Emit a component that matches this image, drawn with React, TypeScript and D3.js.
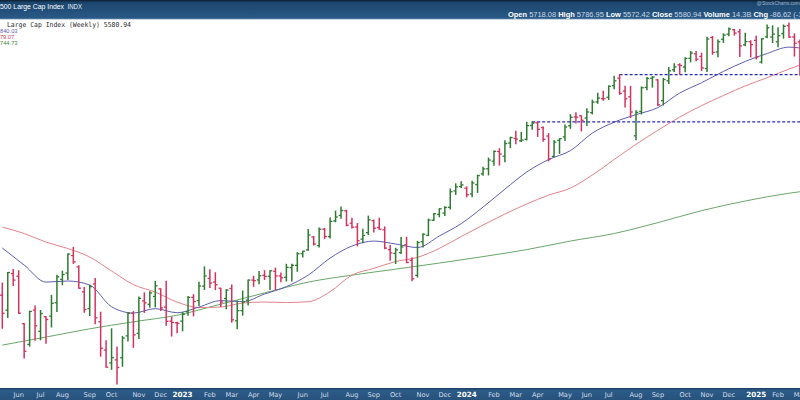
import React from "react";
import * as d3 from "d3";

const W = 800;
const H = 400;

// Weekly bars, one per Monday, from the week of 16 May 2022 to the week of 3 Mar 2025
const weeks: Date[] = d3.utcMonday.range(new Date(Date.UTC(2022, 4, 16)), new Date(Date.UTC(2025, 2, 4)));

const opens = [
  4013, 3920, 4151, 4134, 3838, 3715, 3920, 3792, 3880, 3883, 3966, 4113, 4155, 4270, 4195, 4034, 3930, 4084, 3849, 3682,
  3609, 3626, 3638, 3765, 3901, 3780, 3977, 3956, 4005, 4053, 3939, 3853, 3843, 3853, 3910, 3999, 3979, 4070, 4120, 4096,
  4057, 3992, 4055, 3855, 3917, 3982, 4109, 4110, 4140, 4134, 4166, 4136, 4127, 4190, 4205, 4283, 4308, 4396, 4337, 4450,
  4399, 4508, 4547, 4580, 4492, 4465, 4381, 4426, 4510, 4462, 4445, 4310, 4284, 4289, 4342, 4238, 4139, 4364, 4407, 4513,
  4554, 4564, 4605, 4725, 4758, 4745, 4703, 4772, 4853, 4892, 4950, 5026, 4989, 5093, 5131, 5111, 5123, 5235, 5257, 5218,
  5149, 4988, 5114, 5142, 5233, 5305, 5315, 5297, 5341, 5432, 5460, 5471, 5572, 5638, 5525, 5476, 5151, 5351, 5557, 5637,
  5623, 5442, 5615, 5712, 5757, 5737, 5816, 5857, 5833, 5724, 6009, 5874, 5992, 6040, 6083, 6063, 5940, 5969, 5982, 5782,
  6015, 6013, 5969, 6046, 6121, 6014, 5968,
];
const highs = [
  4090, 4158, 4177, 4169, 3838, 3913, 3946, 3918, 3880, 4012, 4140, 4167, 4280, 4325, 4203, 4062, 4076, 4119, 3907, 3736,
  3807, 3698, 3762, 3905, 3911, 4001, 4028, 4034, 4101, 4053, 4101, 3878, 3846, 3906, 4004, 4016, 4095, 4195, 4176, 4156,
  4057, 4048, 4078, 3976, 4039, 4110, 4133, 4164, 4170, 4170, 4187, 4155, 4212, 4212, 4290, 4299, 4448, 4400, 4458, 4456,
  4528, 4578, 4607, 4584, 4527, 4490, 4450, 4542, 4514, 4527, 4466, 4338, 4319, 4393, 4394, 4256, 4366, 4418, 4521, 4560,
  4595, 4609, 4739, 4778, 4793, 4755, 4798, 4842, 4903, 4975, 5030, 5048, 5111, 5140, 5189, 5179, 5261, 5265, 5264, 5222,
  5168, 5114, 5128, 5239, 5325, 5341, 5315, 5375, 5447, 5506, 5523, 5570, 5655, 5670, 5566, 5566, 5358, 5561, 5643, 5651,
  5623, 5636, 5734, 5767, 5767, 5822, 5879, 5878, 5863, 6012, 6018, 5985, 6044, 6099, 6085, 6085, 6049, 5978, 6021, 5997,
  6128, 6120, 6101, 6128, 6147, 6043, 5986,
];
const lows = [
  3810, 3875, 4074, 3900, 3637, 3705, 3739, 3742, 3722, 3818, 3911, 4079, 4112, 4218, 4057, 3907, 3887, 3838, 3647, 3584,
  3573, 3491.6, 3590, 3735, 3698, 3750, 3906, 3938, 3940, 3918, 3828, 3764, 3783, 3795, 3888, 3885, 3948, 4049, 4061, 4048,
  3943, 3928, 3847, 3808, 3889, 3951, 4069, 4086, 4113, 4049, 4048, 4098, 4103, 4103, 4166, 4261, 4306, 4341, 4328, 4385,
  4389, 4502, 4527, 4474, 4458, 4335, 4356, 4413, 4430, 4448, 4316, 4238, 4217, 4284, 4223, 4104, 4129, 4327, 4406, 4511,
  4537, 4546, 4593, 4699, 4751, 4682, 4682, 4714, 4842, 4845, 4918, 4920, 4946, 5056, 5087, 5105, 5118, 5204, 5146, 5107,
  4953, 4985, 5011, 5114, 5212, 5256, 5191, 5234, 5331, 5420, 5447, 5453, 5546, 5497, 5390, 5302, 5119, 5330, 5537, 5560,
  5402, 5406, 5592, 5698, 5674, 5696, 5784, 5794, 5706, 5697, 5853, 5830, 5963, 6026, 6032, 5832, 5932, 5829, 5809, 5773,
  6007, 5962, 5923, 6003, 6008, 5837, 5666,
];
const closes = [
  3901, 4158, 4109, 3901, 3675, 3912, 3825, 3899, 3863, 3962, 4130, 4145, 4280, 4228, 4057, 3924, 4067, 3873, 3693, 3585,
  3639, 3583, 3752, 3901, 3771, 3993, 3965, 4027, 4072, 3934, 3852, 3845, 3840, 3895, 3999, 3973, 4071, 4136, 4090, 4079,
  3970, 4045, 3861, 3917, 3971, 4109, 4105, 4137, 4133, 4169, 4136, 4124, 4192, 4205, 4282, 4299, 4410, 4348, 4450, 4399,
  4505, 4536, 4582, 4478, 4464, 4370, 4406, 4516, 4457, 4450, 4320, 4288, 4308, 4328, 4224, 4117, 4358, 4415, 4514, 4559,
  4595, 4604, 4719, 4755, 4770, 4697, 4784, 4840, 4891, 4959, 5027, 5006, 5089, 5137, 5124, 5117, 5234, 5254, 5204, 5123,
  4967, 5100, 5128, 5223, 5303, 5304, 5278, 5347, 5431, 5465, 5459, 5567, 5615, 5505, 5459, 5347, 5344, 5554, 5635, 5648,
  5408, 5626, 5703, 5738, 5751, 5815, 5865, 5808, 5729, 5995, 5870, 5969, 6032, 6090, 6051, 5931, 5971, 5942, 5827, 5997,
  6101, 6041, 6026, 6115, 6013, 5955, 5770,
];

// Moving averages (week index -> value)
const maFastWeeks = [0, 4, 8, 12, 16, 20, 24, 28, 32, 36, 40, 44, 48, 52, 56, 60, 64, 68, 72, 76, 80, 84, 88, 92, 96, 100, 104, 108, 112, 116, 120, 124, 128, 132, 136, 140, 144, 146];
const maFast = [4321, 4207, 4096, 4103, 4077, 3941, 3902, 3929, 3904, 3939, 3979, 3972, 4020, 4067, 4141, 4253, 4334, 4368, 4348, 4324, 4403, 4489, 4607, 4738, 4867, 4963, 5033, 5173, 5262, 5325, 5384, 5508, 5598, 5698, 5788, 5860, 5919, 5911];
const maMidWeeks = maFastWeeks;
const maMid = [4465, 4420, 4361, 4317, 4260, 4168, 4080, 4032, 3970, 3936, 3939, 3964, 3970, 3967, 3972, 4035, 4141, 4185, 4230, 4258, 4318, 4399, 4479, 4557, 4629, 4694, 4746, 4844, 4963, 5083, 5196, 5305, 5400, 5487, 5570, 5642, 5719, 5755];
const maSlowWeeks = [0, 8, 16, 24, 32, 40, 48, 56, 64, 72, 80, 88, 96, 104, 112, 120, 128, 136, 144, 146];
const maSlow = [3711, 3758, 3807, 3849, 3889, 3957, 4027, 4096, 4141, 4180, 4220, 4263, 4310, 4368, 4420, 4496, 4581, 4651, 4708, 4719];

// Horizontal resistance lines: start week index and level
const levelWeeks = [97, 113];
const levelValues = [5264.85, 5669.67];

const monthNames = ["Jan", "Feb", "Mar", "Apr", "May", "Jun", "Jul", "Aug", "Sep", "Oct", "Nov", "Dec"];

const headerTitle = "500 Large Cap Index";
const headerExchange = "INDX";
const legendTitle = "Large Cap Index (Weekly) 5580.94";
const legendMA = ["840.03", "79.07", "744.73"];
const infoItems: [string, string][] = [
  ["Open", "5718.08"],
  ["High", "5786.95"],
  ["Low", "5572.42"],
  ["Close", "5580.94"],
  ["Volume", "14.3B"],
  ["Chg", "-86.62 (-1.53%)"],
];

const UP = "#2f7a31";
const DOWN = "#d3325f";
const C_FAST = "#5d5fae";
const C_MID = "#e3828a";
const C_SLOW = "#6aa76a";

const SANS = "'Liberation Sans', Arial, sans-serif";

export default function App() {
  const x = d3
    .scaleUtc()
    .domain([weeks[0], weeks[weeks.length - 1]])
    .range([2.3, 2.3 + 5.463 * (weeks.length - 1)]);
  const y = d3.scaleLog().domain([3491.6, 6147]).range([384, 23]);

  const maLine = (idx: number[], vals: number[]) =>
    d3
      .line<number>()
      .x((_, k) => x(weeks[idx[k]]))
      .y((v) => y(v))
      .curve(d3.curveMonotoneX)(vals) || "";

  const tick = 2.3;

  const labels = weeks
    .map((d, i) => ({ d, i }))
    .filter(({ d }) => d.getUTCDate() <= 7);

  const infoParts: { t: string; bold: boolean }[] = [];
  infoItems.forEach(([k, v]) => {
    infoParts.push({ t: k + " ", bold: true });
    infoParts.push({ t: v + " ", bold: false });
  });

  return (
    <svg width={W} height={H} style={{ position: "absolute", left: 0, top: 0, display: "block" }}>
      <defs>
        <linearGradient id="hdr" x1="0" y1="0" x2="0" y2="1">
          <stop offset="0" stopColor="#0c1f33" />
          <stop offset="0.14" stopColor="#1b466e" />
          <stop offset="1" stopColor="#2a5a87" />
        </linearGradient>
        <linearGradient id="axb" x1="0" y1="0" x2="0" y2="1">
          <stop offset="0" stopColor="#1c3f62" />
          <stop offset="0.2" stopColor="#2c5b88" />
          <stop offset="1" stopColor="#27527c" />
        </linearGradient>
        <clipPath id="plot">
          <rect x={0} y={19} width={W} height={369} />
        </clipPath>
      </defs>
      <rect x={0} y={0} width={W} height={H} fill="#ffffff" />

      <g clipPath="url(#plot)">
        {/* moving averages */}
        <path d={maLine(maSlowWeeks, maSlow)} fill="none" stroke={C_SLOW} strokeWidth={1} />
        <path d={maLine(maMidWeeks, maMid)} fill="none" stroke={C_MID} strokeWidth={1} />
        <path d={maLine(maFastWeeks, maFast)} fill="none" stroke={C_FAST} strokeWidth={1} />

        {/* resistance levels */}
        {levelWeeks.map((wi, k) => (
          <line
            key={"lv" + k}
            x1={x(weeks[wi])}
            x2={W}
            y1={y(levelValues[k])}
            y2={y(levelValues[k])}
            stroke="#2a2ab8"
            strokeWidth={1.4}
            strokeDasharray="3,2"
          />
        ))}

        {/* OHLC bars */}
        {weeks.map((d, i) => {
          const cx = x(d);
          const col = closes[i] >= opens[i] ? UP : DOWN;
          return (
            <g key={i} stroke={col} strokeWidth={1.5}>
              <line x1={cx} x2={cx} y1={y(highs[i]) - 0.5} y2={y(lows[i]) + 0.5} />
              <line x1={cx - tick} x2={cx} y1={y(opens[i])} y2={y(opens[i])} strokeWidth={1.3} />
              <line x1={cx} x2={cx + tick} y1={y(closes[i])} y2={y(closes[i])} strokeWidth={1.3} />
            </g>
          );
        })}
      </g>

      {/* legend */}
      <text
        x={7}
        y={26.5}
        fontFamily="'DejaVu Sans Mono', 'Liberation Mono', monospace"
        fontSize={6.8}
        fill="#2a2a2a"
        textLength={124}
        lengthAdjust="spacingAndGlyphs"
      >
        {legendTitle}
      </text>
      <text x={0} y={32.8} fontFamily={SANS} fontSize={6} fill={C_FAST} textLength={17.5} lengthAdjust="spacingAndGlyphs">
        {legendMA[0]}
      </text>
      <text x={0} y={38.8} fontFamily={SANS} fontSize={6} fill="#c2414e" textLength={14} lengthAdjust="spacingAndGlyphs">
        {legendMA[1]}
      </text>
      <text x={0} y={45} fontFamily={SANS} fontSize={6} fill="#3f8a3f" textLength={17.5} lengthAdjust="spacingAndGlyphs">
        {legendMA[2]}
      </text>

      {/* header */}
      <rect x={0} y={0} width={W} height={19} fill="url(#hdr)" />
      <line x1={0} x2={W} y1={19.2} y2={19.2} stroke="#9db3c8" strokeWidth={0.8} />
      <text x={0} y={9.4} fontFamily={SANS} fontSize={7.4} fill="#ffffff" textLength={64} lengthAdjust="spacingAndGlyphs">
        {headerTitle}
      </text>
      <text x={67.5} y={9.4} fontFamily={SANS} fontSize={6.6} fill="#e6edf4" textLength={14.5} lengthAdjust="spacingAndGlyphs">
        {headerExchange}
      </text>
      <text x={W} y={5} textAnchor="end" fontFamily={SANS} fontSize={5} fill="#9fb4c9">
        @StockCharts.com
      </text>
      <text
        x={508}
        y={16.6}
        fontFamily={SANS}
        fontSize={7.3}
        fill="#ffffff"
        textLength={316}
        lengthAdjust="spacingAndGlyphs"
        style={{ whiteSpace: "pre" }}
      >
        {infoParts.map((p, k) => (
          <tspan key={k} fontWeight={p.bold ? "bold" : "normal"} fill={p.bold ? "#ffffff" : "#c9d6e3"}>
            {p.t}
          </tspan>
        ))}
      </text>

      {/* bottom axis */}
      <rect x={0} y={388} width={W} height={12} fill="url(#axb)" />
      {labels.map(({ d, i }) => {
        const m = d.getUTCMonth();
        const isYear = m === 0;
        return (
          <text
            key={"lb" + i}
            x={x(d)}
            y={396.6}
            textAnchor="middle"
            fontFamily="'DejaVu Sans', Verdana, sans-serif"
            fontSize={isYear ? 7.2 : 6.6}
            fontWeight={isYear ? "bold" : "normal"}
            fill={isYear ? "#ffffff" : "#d3deea"}
          >
            {isYear ? String(d.getUTCFullYear()) : monthNames[m]}
          </text>
        );
      })}
    </svg>
  );
}
